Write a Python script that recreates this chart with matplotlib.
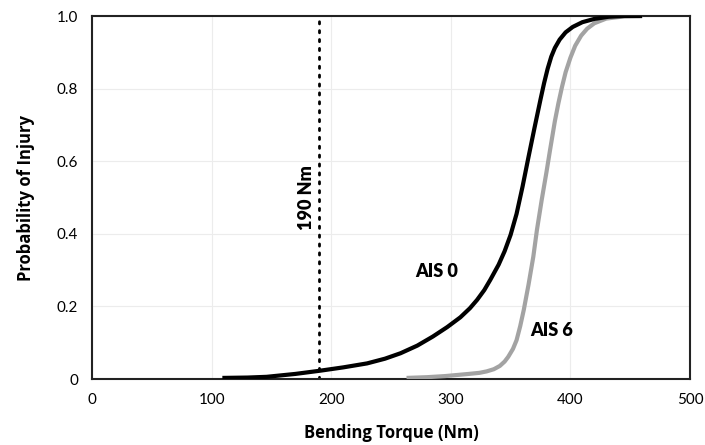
import matplotlib
matplotlib.use("Agg")
import matplotlib.pyplot as plt

plt.rcParams['font.family'] = ['Lato', 'DejaVu Sans']

# AIS 0 curve
ais0_x = [109, 130, 146, 170, 191, 210, 230, 245, 258, 272, 285, 297, 308, 316, 322,
          328, 333, 340, 345, 350, 355, 360, 365, 370, 375, 378, 381, 384, 387, 391,
          396, 402, 410, 420, 432, 445, 460]
ais0_y = [0.003, 0.004, 0.006, 0.014, 0.023, 0.032, 0.043, 0.056, 0.071, 0.092, 0.117,
          0.143, 0.170, 0.195, 0.218, 0.245, 0.273, 0.315, 0.352, 0.397, 0.455, 0.530,
          0.612, 0.692, 0.77, 0.815, 0.855, 0.888, 0.912, 0.935, 0.955, 0.970, 0.983,
          0.992, 0.998, 1.0, 1.0]

# AIS 6 curve
ais6_x = [263, 280, 295, 305, 315, 324, 330, 336, 341, 345, 348, 352, 355, 358, 361,
          365, 369, 372, 376, 380, 383, 387, 390, 393, 396, 400, 404, 409, 414, 420,
          430, 445, 460]
ais6_y = [0.003, 0.005, 0.008, 0.011, 0.014, 0.017, 0.021, 0.027, 0.036, 0.048, 0.061,
          0.083, 0.107, 0.145, 0.19, 0.26, 0.337, 0.41, 0.493, 0.57, 0.631, 0.71,
          0.76, 0.805, 0.845, 0.885, 0.918, 0.946, 0.965, 0.980, 0.993, 0.999, 1.0]

threshold = 190
x_ticks = [0, 100, 200, 300, 400, 500]
y_ticks = [0, 0.2, 0.4, 0.6, 0.8, 1.0]
y_ticklabels = ['0', '0.2', '0.4', '0.6', '0.8', '1.0']

fig = plt.figure(figsize=(7.05, 4.45), dpi=100)
ax = fig.add_axes([0.1305, 0.1483, 0.8482, 0.8157])

ax.plot(ais6_x, ais6_y, color='#a3a3a3', lw=3, solid_capstyle='butt',
        solid_joinstyle='round', zorder=3)
ax.plot(ais0_x, ais0_y, color='black', lw=3, solid_capstyle='butt',
        solid_joinstyle='round', zorder=4)
ax.plot([threshold, threshold], [0, 1], color='black', lw=2, dashes=(0.8, 2.4),
        dash_capstyle='round', zorder=2)

ax.set_xlim(0, 500)
ax.set_ylim(0, 1.0)
ax.set_xticks(x_ticks)
ax.set_yticks(y_ticks)
ax.set_yticklabels(y_ticklabels)
ax.tick_params(length=0, labelsize=11, pad=10)
ax.grid(True, color='#ececec', lw=0.8)
ax.set_axisbelow(True)
for s in ax.spines.values():
    s.set_color('#222222')
    s.set_linewidth(1.5)

lab_font = dict(family=['Open Sans', 'DejaVu Sans'], fontsize=12, fontweight='bold')
ax.set_xlabel('Bending Torque (Nm)', labelpad=12, **lab_font)
ax.set_ylabel('Probability of Injury', labelpad=16, **lab_font)

ax.text(179.5, 0.50, '190 Nm', rotation=90, ha='center', va='center',
        fontsize=13, fontweight='heavy')
ax.text(288.5, 0.295, 'AIS 0', ha='center', va='center', fontsize=13, fontweight='heavy')
ax.text(384.3, 0.133, 'AIS 6', ha='center', va='center', fontsize=13, fontweight='heavy')

fig.savefig('out.png', dpi=100)
